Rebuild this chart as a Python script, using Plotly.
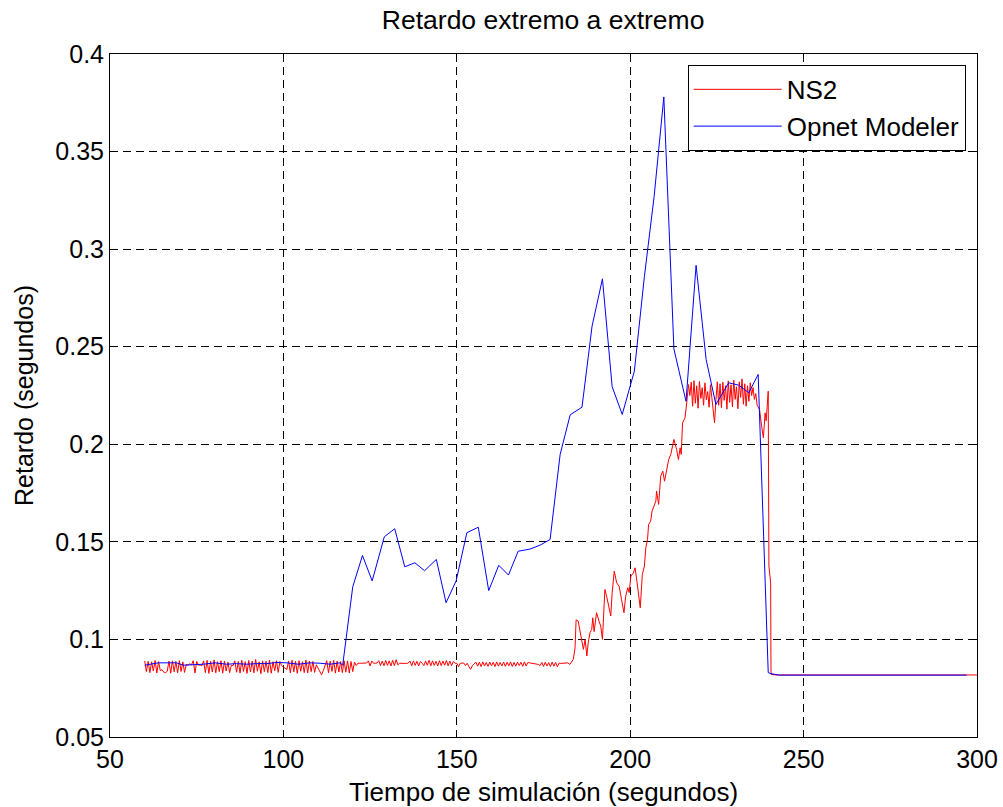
import numpy as np
import plotly.graph_objects as go

# ---- NS2 end-to-end delay (s) ----
# Uniform 0.5 s sampling from 60 s to 181.5 s
ns2_start, ns2_end = 60.0, 181.5
ns2_delay_steady = [
    0.0890, 0.0835, 0.0888, 0.0830, 0.0885, 0.0838, 0.0892, 0.0828, 0.0886, 0.0840,
    0.0845, 0.0832, 0.0830, 0.0836, 0.0889, 0.0827, 0.0890, 0.0834, 0.0887, 0.0829,
    0.0891, 0.0836, 0.0885, 0.0831, 0.0872, 0.0868, 0.0875, 0.0870, 0.0891, 0.0828,
    0.0887, 0.0868, 0.0869, 0.0866, 0.0890, 0.0830, 0.0893, 0.0826, 0.0888, 0.0833,
    0.0895, 0.0829, 0.0886, 0.0835, 0.0891, 0.0827, 0.0889, 0.0838, 0.0884, 0.0830,
    0.0868, 0.0866, 0.0890, 0.0832, 0.0887, 0.0828, 0.0893, 0.0836, 0.0886, 0.0826,
    0.0892, 0.0833, 0.0889, 0.0829, 0.0897, 0.0837, 0.0885, 0.0824, 0.0890, 0.0835,
    0.0888, 0.0830, 0.0894, 0.0827, 0.0886, 0.0839, 0.0891, 0.0831, 0.0887, 0.0866,
    0.0858, 0.0850, 0.0846, 0.0890, 0.0829, 0.0893, 0.0834, 0.0888, 0.0826, 0.0891,
    0.0837, 0.0886, 0.0830, 0.0894, 0.0828, 0.0889, 0.0835, 0.0887, 0.0831, 0.0870,
    0.0852, 0.0834, 0.0819, 0.0840, 0.0862, 0.0891, 0.0829, 0.0888, 0.0836, 0.0893,
    0.0827, 0.0889, 0.0833, 0.0886, 0.0830, 0.0891,
    0.0832, 0.0890, 0.0828, 0.0887, 0.0835, 0.0884, 0.0866,
    0.0878, 0.0878, 0.0879, 0.0878, 0.0878, 0.0879,
    0.0890, 0.0864, 0.0889, 0.0878,
    0.0878, 0.0879,
    0.0891, 0.0866, 0.0889, 0.0865, 0.0892, 0.0867, 0.0890, 0.0864, 0.0893, 0.0866, 0.0896, 0.0870,
    0.0878, 0.0877, 0.0878, 0.0878, 0.0877, 0.0879,
    0.0889, 0.0865, 0.0890, 0.0867, 0.0888, 0.0864, 0.0887,
    0.0878,
    0.0866, 0.0889, 0.0868, 0.0893, 0.0865, 0.0890, 0.0867, 0.0888, 0.0864, 0.0891,
    0.0866, 0.0889, 0.0868, 0.0892, 0.0865, 0.0889, 0.0866, 0.0887,
    0.0878, 0.0878, 0.0860,
    0.0878, 0.0880, 0.0879, 0.0866, 0.0878,
    0.0860, 0.0847, 0.0866, 0.0878,
    0.0884, 0.0863, 0.0883, 0.0861, 0.0885, 0.0864, 0.0882, 0.0862, 0.0884, 0.0865,
    0.0883, 0.0861, 0.0885, 0.0863, 0.0882, 0.0864, 0.0884, 0.0862, 0.0883, 0.0865,
    0.0885, 0.0861, 0.0882, 0.0863, 0.0884, 0.0866, 0.0883, 0.0862, 0.0885, 0.0864,
    0.0882, 0.0880,
    0.0879, 0.0877, 0.0875, 0.0873, 0.0872, 0.0866,
    0.0882, 0.0862, 0.0883, 0.0864, 0.0881, 0.0861, 0.0884, 0.0863, 0.0882, 0.0860,
    0.0879, 0.0877,
    0.0878, 0.0880, 0.0879,
]

# Congestion ramp (time, delay)
ns2_ramp_t = [
    182.0, 182.6, 183.1, 183.6, 184.1, 184.4, 185.0, 185.7, 186.5, 187.0,
    187.5, 187.9, 188.4, 188.9, 189.2, 189.6, 190.3, 191.0, 191.5, 192.0,
    192.2, 192.7, 193.2, 193.9, 194.4, 194.8, 195.4, 196.1, 196.8, 197.5,
    198.2, 198.7, 199.3, 199.7, 200.2, 200.9, 201.4, 202.0, 202.9, 203.5,
    204.1, 204.5, 205.0, 205.3, 205.9, 206.3, 206.9, 207.4, 207.6, 208.2,
    208.8, 209.4, 209.9, 210.5, 211.1, 211.7, 212.2, 212.6, 213.4, 213.9,
    214.4, 214.7, 215.1, 215.8, 216.3, 216.8,
]
ns2_ramp_d = [
    0.0880, 0.0872, 0.0885, 0.0898, 0.0957, 0.1100, 0.1094, 0.1017, 0.0949, 0.1000,
    0.0915, 0.0983, 0.1034, 0.1051, 0.1111, 0.1040, 0.1137, 0.1094, 0.1068, 0.1000,
    0.1102, 0.1256, 0.1222, 0.1170, 0.1120, 0.1240, 0.1350, 0.1290, 0.1273, 0.1205,
    0.1137, 0.1222, 0.1265, 0.1240, 0.1324, 0.1340, 0.1367, 0.1290, 0.1162, 0.1333,
    0.1376, 0.1470, 0.1512, 0.1589, 0.1606, 0.1657, 0.1683, 0.1709, 0.1760, 0.1692,
    0.1837, 0.1862, 0.1811, 0.1871, 0.1922, 0.1948, 0.1999, 0.2025, 0.1973, 0.1922,
    0.1982, 0.1948, 0.2110, 0.2136, 0.2212, 0.2306,
]

# Saturated plateau, uniform sampling from 217.2 s to 236.6 s
plat_start, plat_end = 217.2, 236.6
ns2_delay_plateau = [
    0.2250, 0.2318, 0.2195, 0.2326, 0.2210, 0.2300, 0.2185, 0.2322, 0.2235, 0.2290,
    0.2200, 0.2315, 0.2228, 0.2270, 0.2190, 0.2305, 0.2240, 0.2165, 0.2110, 0.2230,
    0.2320, 0.2200, 0.2310, 0.2188, 0.2318, 0.2225, 0.2300, 0.2180, 0.2325, 0.2215,
    0.2305, 0.2192, 0.2328, 0.2230, 0.2295, 0.2182, 0.2320, 0.2240, 0.2335, 0.2205,
    0.2310, 0.2195, 0.2300, 0.2220, 0.2315, 0.2250, 0.2290, 0.2230, 0.2260, 0.2200,
]

# Drain and idle tail (time, delay)
ns2_tail_t = [237.3, 237.9, 238.4, 238.9, 239.2, 239.5, 239.8, 240.0, 240.2, 240.5, 240.6, 242.0, 300.0]
ns2_tail_d = [0.2178, 0.2093, 0.2033, 0.2161, 0.2120, 0.2195, 0.2272, 0.1376, 0.1330, 0.1290, 0.0821, 0.0818, 0.0818]

# ---- Opnet Modeler end-to-end delay (s) ----
opnet_t = [
    60.0, 62.0, 63.9, 66.8, 69.2, 71.1, 74.0, 76.9, 80.3, 83.6,
    86.5, 89.4, 92.3, 95.2, 98.1, 101.0, 104.3, 107.7, 110.6, 113.5,
    116.3, 117.1, 120.0, 122.8, 125.6, 129.1, 132.1, 135.0, 137.9, 140.7,
    144.1, 146.9, 149.8, 152.9, 156.2, 159.2, 162.1, 164.9, 167.7, 171.1,
    174.0, 176.9, 179.8, 182.7, 186.1, 189.0, 192.0, 194.8, 197.7, 201.2,
    204.1, 206.9, 209.7, 212.6, 216.1, 219.0, 221.9, 224.7, 228.4, 231.3,
    234.2, 236.9, 239.8, 240.5, 243.0, 297.0,
]
opnet_d = [
    0.0868, 0.0875, 0.0880, 0.0880, 0.0880, 0.0868, 0.0870, 0.0873, 0.0880, 0.0873,
    0.0876, 0.0873, 0.0876, 0.0876, 0.0882, 0.0880, 0.0873, 0.0880, 0.0878, 0.0873,
    0.0880, 0.0868, 0.1270, 0.1430, 0.1300, 0.1526, 0.1567, 0.1372, 0.1393, 0.1352,
    0.1410, 0.1188, 0.1300, 0.1547, 0.1575, 0.1250, 0.1380, 0.1330, 0.1452, 0.1463,
    0.1483, 0.1512, 0.1948, 0.2151, 0.2190, 0.2605, 0.2848, 0.2295, 0.2153, 0.2375,
    0.2861, 0.3270, 0.3780, 0.2489, 0.2220, 0.2917, 0.2434, 0.2204, 0.2315, 0.2303,
    0.2264, 0.2358, 0.0830, 0.0825, 0.0817, 0.0817,
]

# Axis ticks
x_ticks = [50, 100, 150, 200, 250, 300]
y_ticks = [0.05, 0.1, 0.15, 0.2, 0.25, 0.3, 0.35, 0.4]
y_ticklabels = ["0.05", "0.1", "0.15", "0.2", "0.25", "0.3", "0.35", "0.4"]

# Assemble the NS2 series from its pieces
ns2_t = (list(np.linspace(ns2_start, ns2_end, len(ns2_delay_steady)))
         + ns2_ramp_t
         + list(np.linspace(plat_start, plat_end, len(ns2_delay_plateau)))
         + ns2_tail_t)
ns2_d = ns2_delay_steady + ns2_ramp_d + ns2_delay_plateau + ns2_tail_d

FONT = "Liberation Sans, Arial, Helvetica, sans-serif"

fig = go.Figure()
fig.add_trace(go.Scatter(x=ns2_t, y=ns2_d, mode="lines", name="NS2",
                         line=dict(color="#ff0000", width=1)))
fig.add_trace(go.Scatter(x=opnet_t, y=opnet_d, mode="lines", name="Opnet Modeler",
                         line=dict(color="#0000ff", width=1)))

axis_common = dict(
    showline=True, linecolor="black", linewidth=1, mirror="ticks",
    ticks="inside", ticklen=6, tickcolor="black",
    showgrid=True, gridcolor="black", gridwidth=1, griddash="8px,5px",
    zeroline=False, automargin=False,
    tickfont=dict(family=FONT, size=25, color="black"),
)

fig.update_layout(
    width=1003, height=807,
    margin=dict(l=110, r=26, t=54, b=70),
    paper_bgcolor="white", plot_bgcolor="white",
    font=dict(family=FONT, size=25, color="black"),
    title=dict(text="Retardo extremo a extremo", x=0.5415, xanchor="center",
               y=0.976, yanchor="middle",
               font=dict(family=FONT, size=26.5, color="black")),
    xaxis=dict(range=[50, 300], tickvals=x_ticks, ticktext=[str(v) for v in x_ticks],
               title=dict(text="Tiempo de simulación (segundos)", standoff=10,
                          font=dict(family=FONT, size=26)),
               **axis_common),
    yaxis=dict(range=[0.05, 0.4], tickvals=y_ticks, ticktext=y_ticklabels,
               title=dict(text="Retardo (segundos)", standoff=14,
                          font=dict(family=FONT, size=25)),
               **axis_common),
    legend=dict(x=0.987, y=0.984, xanchor="right", yanchor="top",
                bgcolor="white", bordercolor="black", borderwidth=1,
                font=dict(family=FONT, size=26, color="black"),
                itemwidth=88, tracegroupgap=0),
    showlegend=True,
)

fig.write_html("out.html")
